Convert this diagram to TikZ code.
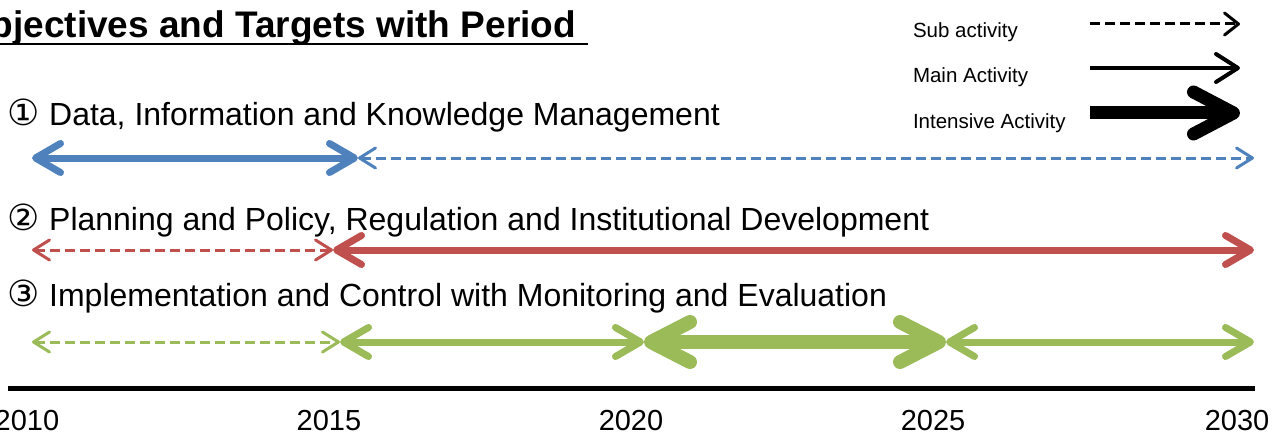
\documentclass[tikz,border=0pt]{standalone}
\usepackage{fontspec}
\setmainfont{Liberation Sans}
\newfontfamily\circfont{DejaVu Sans}
\usetikzlibrary{arrows.meta,positioning}

\definecolor{actblue}{HTML}{4F81BD}
\definecolor{actred}{HTML}{C0504D}
\definecolor{actgreen}{HTML}{9BBB59}

\newcommand{\circnum}[1]{{\circfont\fontsize{36}{40}\selectfont #1}}

\tikzset{
    subtip/.tip={Straight Barb[round,length=16pt,width=20pt]},
    maintip/.tip={Straight Barb[round,length=25pt,width=29pt]},
    bigtip/.tip={Straight Barb[round,length=39pt,width=40pt]}
}

\begin{document}
\begin{tikzpicture}[
    x=1pt,
    y=-1pt,
    every node/.style={
        inner sep=0pt,
        outer sep=0pt
    },
    subact/.style={
        line width=3pt,
        dash pattern=on 10pt off 5pt,
        subtip-subtip
    },
    mainact/.style={
        line width=7pt,
        maintip-maintip
    },
    bigact/.style={
        line width=14pt,
        bigtip-bigtip
    },
    rowlabel/.style={
        anchor=base west,
        font=\fontsize{32}{38}\selectfont
    },
    legendlabel/.style={
        anchor=base west,
        font=\fontsize{20.5}{24}\selectfont
    },
    year/.style={
        anchor=base,
        font=\fontsize{29}{34}\selectfont
    }
]
\useasboundingbox (0,0) rectangle (1274,433);

% Title
\node[anchor=base east, font=\bfseries\fontsize{37}{44}\selectfont] (title) at (576,38)
    {Objectives and Targets with Period};
\draw[line width=2.5pt] (0,44) coordinate (ul0) -- (588,44) coordinate (ul1);

% Legend
\node[legendlabel] (lsub) at (913,38) {Sub activity};
\node[legendlabel] (lmain) at (913,83) {Main Activity};
\node[legendlabel] (lbig) at (913,129) {Intensive Activity};

\coordinate (ls0) at (1090,24);
\coordinate (ls1) at (1240,24);
\coordinate (lm0) at (1090,68);
\coordinate (lm1) at (1240,68);
\coordinate (lb0) at (1090,113);
\coordinate (lb1) at (1240,113);

\draw[line width=3pt, dash pattern=on 10pt off 5pt, -{Straight Barb[round,length=14pt,width=22pt]}] (ls0) -- (ls1);
\draw[line width=4pt, -{Straight Barb[round,length=22pt,width=28pt]}] (lm0) -- (lm1);
\draw[line width=13pt, -{Straight Barb[round,length=40pt,width=42pt]}] (lb0) -- (lb1);

% Row 1
\node[rowlabel] (obj1) at (8,125) {\circnum{①} Data, Information and Knowledge Management};
\coordinate (p0) at (32,158);
\coordinate (p1) at (358,158);
\coordinate (p2) at (1254,158);
\draw[mainact, actblue] (p0) -- (p1);
\draw[subact, actblue] (p1) -- (p2);

% Row 2
\node[rowlabel] (obj2) at (8,230) {\circnum{②} Planning and Policy, Regulation and Institutional Development};
\coordinate (q0) at (32,250);
\coordinate (q1) at (333,250);
\coordinate (q2) at (1254,250);
\draw[subact, actred] (q0) -- (q1);
\draw[mainact, actred] (q1) -- (q2);

% Row 3
\node[rowlabel] (obj3) at (8,306) {\circnum{③} Implementation and Control with Monitoring and Evaluation};
\coordinate (r0) at (32,342);
\coordinate (r1) at (340,342);
\coordinate (r2) at (644,342);
\coordinate (r3) at (946,342);
\coordinate (r4) at (1254,342);
\draw[subact, actgreen] (r0) -- (r1);
\draw[mainact, actgreen] (r1) -- (r2);
\draw[bigact, actgreen] (r2) -- (r3);
\draw[mainact, actgreen] (r3) -- (r4);

% Time axis
\coordinate (ax0) at (8,388);
\coordinate (ax1) at (1255,388);
\draw[line width=5pt] (ax0) -- (ax1);

\node[year] (y2010) at (27,430) {2010};
\node[year] (y2015) at (329,430) {2015};
\node[year] (y2020) at (631,430) {2020};
\node[year] (y2025) at (933,430) {2025};
\node[year] (y2030) at (1237,430) {2030};

\end{tikzpicture}
\end{document}
